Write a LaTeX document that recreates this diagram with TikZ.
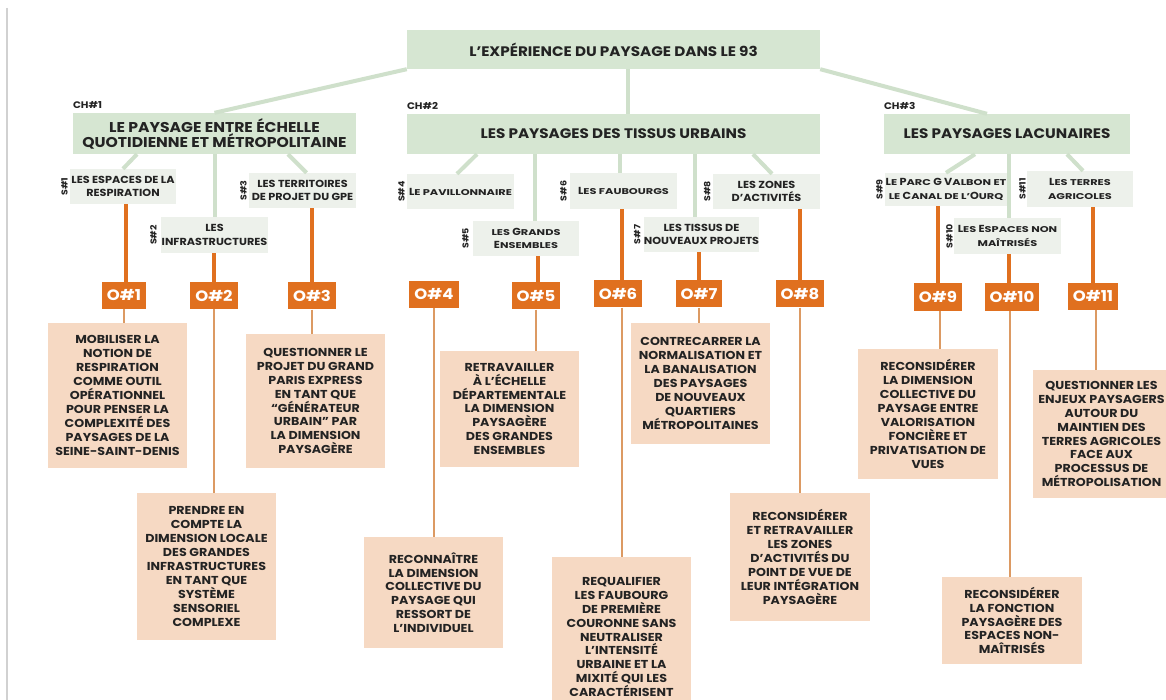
\documentclass[tikz,border=0pt]{standalone}
\usepackage{fontspec}
\setmainfont{Poppins}[FakeStretch=1.1]
\newfontfamily\scfont{Poppins}[FakeStretch=1.35]
\usetikzlibrary{positioning}
\definecolor{hdrgreen}{HTML}{D6E6D2}
\definecolor{subgreen}{HTML}{EDF1EB}
\definecolor{linkgreen}{HTML}{CFE0CB}
\definecolor{oorange}{HTML}{E0701F}
\definecolor{peach}{HTML}{F6D9C3}
\definecolor{thinorange}{HTML}{DC9A63}
\definecolor{ink}{HTML}{232323}
\newcommand\sct[1]{{\scfont\fontsize{8.4}{12}\selectfont #1}}

\begin{document}
\begin{tikzpicture}[
                x=1pt, y=-1pt,
                every node/.style={text=ink, inner sep=0pt},
                titlebox/.style 2 args={
                    fill=hdrgreen,
                    minimum width=#1,
                    minimum height=#2,
                    align=center,
                    font=\fontsize{13.8}{13.5}\selectfont\bfseries
                },
                subbox/.style 2 args={
                    fill=subgreen,
                    minimum width=#1,
                    minimum height=#2,
                    align=center,
                    font=\fontsize{10.2}{13.5}\selectfont\bfseries
                },
                obox/.style={
                    fill=oorange,
                    text=white,
                    minimum height=27,
                    inner xsep=5pt,
                    font=\fontsize{15}{15}\selectfont\bfseries
                },
                goalbox/.style 2 args={
                    fill=peach,
                    minimum width=#1,
                    minimum height=#2,
                    align=center,
                    font=\fontsize{11.5}{13.9}\selectfont\bfseries
                },
                chlab/.style={font=\fontsize{9.5}{10}\selectfont\bfseries},
                slab/.style={rotate=90, anchor=south, font=\fontsize{8.6}{9}\selectfont\bfseries},
                glink/.style={draw=linkgreen, line width=4pt},
                olink/.style={draw=oorange, line width=3.6pt},
                tlink/.style={draw=thinorange, line width=1.2pt}
            ]

                \useasboundingbox (0,0) rectangle (1166,700);
                \fill[white] (0,0) rectangle (1166,700);
                \clip (0,0) rectangle (1166,700);
                \draw[black!18, line width=1.2pt] (7,8) -- (7,700);

                \node[titlebox={413}{39}] (root) at (613.5,49.5) {L’EXPÉRIENCE DU PAYSAGE DANS LE 93};

                \node[titlebox={283}{41}, font=\fontsize{14.2}{13.5}\selectfont\bfseries] (ch1) at (214.5,133.5) {LE PAYSAGE ENTRE ÉCHELLE\\QUOTIDIENNE ET MÉTROPOLITAINE};
                \node[titlebox={413}{40}] (ch2) at (613.5,134) {LES PAYSAGES DES TISSUS URBAINS};
                \node[titlebox={246}{40}] (ch3) at (1007,134) {LES PAYSAGES LACUNAIRES};
                \node[chlab, anchor=south west, above right=4pt and 0pt of ch1.north west] (ch1lab) {CH\#1};
                \node[chlab, anchor=south west, above right=4pt and 0pt of ch2.north west] (ch2lab) {CH\#2};
                \node[chlab, anchor=south west, above right=4pt and 0pt of ch3.north west] (ch3lab) {CH\#3};

                \draw[glink] (root.south west) -- (ch1.north);
                \draw[glink] ([xshift=14.5]root.south) -- ([xshift=14.5]ch2.north);
                \draw[glink] (root.south east) -- ([xshift=-20]ch3.north);

                \node[subbox={106}{35}] (s1) at (123,186.5) {LES ESPACES DE LA\\RESPIRATION};
                \node[subbox={107}{36}] (s2) at (214.5,235) {LES\\INFRASTRUCTURES};
                \node[subbox={107}{35}] (s3) at (302.5,190.5) {LES TERRITOIRES\\DE PROJET DU GPE};
                \node[subbox={107}{35}] (s4) at (460.5,191.5) {L\sct{E PAVILLONNAIRE}};
                \node[subbox={106}{35}] (s5) at (526,238.5) {\sct{LES} G\sct{RANDS}\\E\sct{NSEMBLES}};
                \node[subbox={107}{36}] (s6) at (623.5,191) {L\sct{ES FAUBOURGS}};
                \node[subbox={113}{35}] (s7) at (701.5,234.5) {LES TISSUS DE\\NOUVEAUX PROJETS};
                \node[subbox={107}{35}] (s8) at (766.5,191.5) {LES ZONES\\D’ACTIVITÉS};
                \node[subbox={122}{33}] (s9) at (946,189.5) {L\sct{E} P\sct{ARC} G V\sct{ALBON ET}\\\sct{LE} C\sct{ANAL DE L’}O\sct{URQ}};
                \node[subbox={107}{36}] (s10) at (1007.5,236) {L\sct{ES} E\sct{SPACES NON}\\\sct{MAÎTRISÉS}};
                \node[subbox={106}{36}] (s11) at (1080,189) {L\sct{ES TERRES}\\\sct{AGRICOLES}};

                \node[slab] at ([xshift=-2]s1.west) {S\#1};
                \node[slab] at ([xshift=-4]s2.west) {S\#2};
                \node[slab] at ([xshift=-2]s3.west) {S\#3};
                \node[slab] at ([xshift=-2]s4.west) {S\#4};
                \node[slab] at ([xshift=-4]s5.west) {S\#5};
                \node[slab] at ([xshift=-3]s6.west) {S\#6};
                \node[slab] at ([xshift=-3]s7.west) {S\#7};
                \node[slab] at ([xshift=-2]s8.west) {S\#8};
                \node[slab] at ([xshift=-2]s9.west) {S\#9};
                \node[slab] at ([xshift=-1]s10.west) {S\#10};
                \node[slab] at ([xshift=-1]s11.west) {S\#11};

                \draw[glink] ([xshift=-77.5]ch1.south) -- (s1.north);
                \draw[glink] (s2.north) -- (s2.north |- ch1.south);
                \draw[glink] ([xshift=73.5]ch1.south) -- ([xshift=4]s3.north);
                \draw[glink] ([xshift=-136.5]ch2.south) -- ([xshift=-3.5]s4.north);
                \draw[glink] ([xshift=9]s5.north) -- ([xshift=9]s5.north |- ch2.south);
                \draw[glink] ([xshift=-3.5]s6.north) -- ([xshift=-3.5]s6.north |- ch2.south);
                \draw[glink] ([xshift=-6.5]s7.north) -- ([xshift=-6.5]s7.north |- ch2.south);
                \draw[glink] ([xshift=139.5]ch2.south) -- ([xshift=5.5]s8.north);
                \draw[glink] ([xshift=-32]ch3.south) -- (s9.north);
                \draw[glink] ([xshift=1.5]s10.north) -- ([xshift=1.5]s10.north |- ch3.south);
                \draw[glink] ([xshift=60]ch3.south) -- ([xshift=3]s11.north);

                \node[obox] (o1) at (124,295.5) {O\#1};
                \node[obox] (o2) at (214,295.5) {O\#2};
                \node[obox] (o3) at (312,296) {O\#3};
                \node[obox] (o4) at (434,294.5) {O\#4};
                \node[obox] (o5) at (536,296) {O\#5};
                \node[obox] (o6) at (618,294) {O\#6};
                \node[obox] (o7) at (699,294) {O\#7};
                \node[obox] (o8) at (800,294) {O\#8};
                \node[obox] (o9) at (938,297) {O\#9};
                \node[obox] (o10) at (1012,297) {O\#10};
                \node[obox] (o11) at (1093,296.5) {O\#11};

                \draw[olink] ([xshift=2]o1.north) -- ([xshift=2]o1.north |- s1.south);
                \draw[olink] (o2.north) -- (o2.north |- s2.south);
                \draw[olink] (o3.north) -- (o3.north |- s3.south);
                \draw[olink] ([xshift=2]o5.north) -- ([xshift=2]o5.north |- s5.south);
                \draw[olink] ([xshift=4]o6.north) -- ([xshift=4]o6.north |- s6.south);
                \draw[olink] (o7.north) -- (o7.north |- s7.south);
                \draw[olink] (o8.north) -- (o8.north |- s8.south);
                \draw[olink] (o9.north) -- (o9.north |- s9.south);
                \draw[olink] ([xshift=-3]o10.north) -- ([xshift=-3]o10.north |- s10.south);
                \draw[olink] (o11.north) -- (o11.north |- s11.south);

                \node[goalbox={139}{145}] (g1) at (117.5,395.5) {MOBILISER LA\\NOTION DE\\RESPIRATION\\COMME OUTIL\\OPÉRATIONNEL\\POUR PENSER LA\\COMPLEXITÉ DES\\PAYSAGES DE LA\\SEINE-SAINT-DENIS};
                \node[goalbox={139}{147}] (g2) at (206.5,566.5) {PRENDRE EN\\COMPTE LA\\DIMENSION LOCALE\\DES GRANDES\\INFRASTRUCTURES\\EN TANT QUE\\SYSTÈME\\SENSORIEL\\COMPLEXE};
                \node[goalbox={139}{134}] (g3) at (315.5,401) {QUESTIONNER LE\\PROJET DU GRAND\\PARIS EXPRESS\\EN TANT QUE\\“GÉNÉRATEUR\\URBAIN” PAR\\LA DIMENSION\\PAYSAGÈRE};
                \node[goalbox={139}{111}] (g4) at (433.5,592.5) {RECONNAÎTRE\\LA DIMENSION\\COLLECTIVE DU\\PAYSAGE QUI\\RESSORT DE\\L’INDIVIDUEL};
                \node[goalbox={139}{116}] (g5) at (509.5,409) {RETRAVAILLER\\À L’ÉCHELLE\\DÉPARTEMENTALE\\LA DIMENSION\\PAYSAGÈRE\\DES GRANDES\\ENSEMBLES};
                \node[goalbox={139}{160}] (g6) at (621.5,637) {REQUALIFIER\\LES FAUBOURG\\DE PREMIÈRE\\COURONNE SANS\\NEUTRALISER\\L’INTENSITÉ\\URBAINE ET LA\\MIXITÉ QUI LES\\CARACTÉRISENT};
                \node[goalbox={139}{121}] (g7) at (700.5,383.5) {CONTRECARRER LA\\NORMALISATION ET\\LA BANALISATION\\DES PAYSAGES\\DE NOUVEAUX\\QUARTIERS\\MÉTROPOLITAINES};
                \node[goalbox={140}{128}] (g8) at (800,557) {RECONSIDÉRER\\ET RETRAVAILLER\\LES ZONES\\D’ACTIVITÉS DU\\POINT DE VUE DE\\LEUR INTÉGRATION\\PAYSAGÈRE};
                \node[goalbox={140}{130}] (g9) at (928,414) {RECONSIDÉRER\\LA DIMENSION\\COLLECTIVE DU\\PAYSAGE ENTRE\\VALORISATION\\FONCIÈRE ET\\PRIVATISATION DE\\VUES};
                \node[goalbox={140}{87}] (g10) at (1012,620.5) {RECONSIDÉRER\\LA FONCTION\\PAYSAGÈRE DES\\ESPACES NON-\\MAÎTRISÉS};
                \node[goalbox={137}{128}] (g11) at (1101.5,434) {QUESTIONNER LES\\ENJEUX PAYSAGERS\\AUTOUR DU\\MAINTIEN DES\\TERRES AGRICOLES\\FACE AUX\\PROCESSUS DE\\MÉTROPOLISATION};

                \draw[tlink] (o1.south) -- (o1.south |- g1.north);
                \draw[tlink] (o2.south) -- (o2.south |- g2.north);
                \draw[tlink] (o3.south) -- (o3.south |- g3.north);
                \draw[tlink] (o4.south) -- (o4.south |- g4.north);
                \draw[tlink] (o5.south) -- (o5.south |- g5.north);
                \draw[tlink] ([xshift=4]o6.south) -- ([xshift=4]o6.south |- g6.north);
                \draw[tlink] (o7.south) -- (o7.south |- g7.north);
                \draw[tlink] (o8.south) -- (o8.south |- g8.north);
                \draw[tlink] ([xshift=2]o9.south) -- ([xshift=2]o9.south |- g9.north);
                \draw[tlink] ([xshift=-2]o10.south) -- ([xshift=-2]o10.south |- g10.north);
                \draw[tlink] ([xshift=3]o11.south) -- ([xshift=3]o11.south |- g11.north);

            \end{tikzpicture}
\end{document}
